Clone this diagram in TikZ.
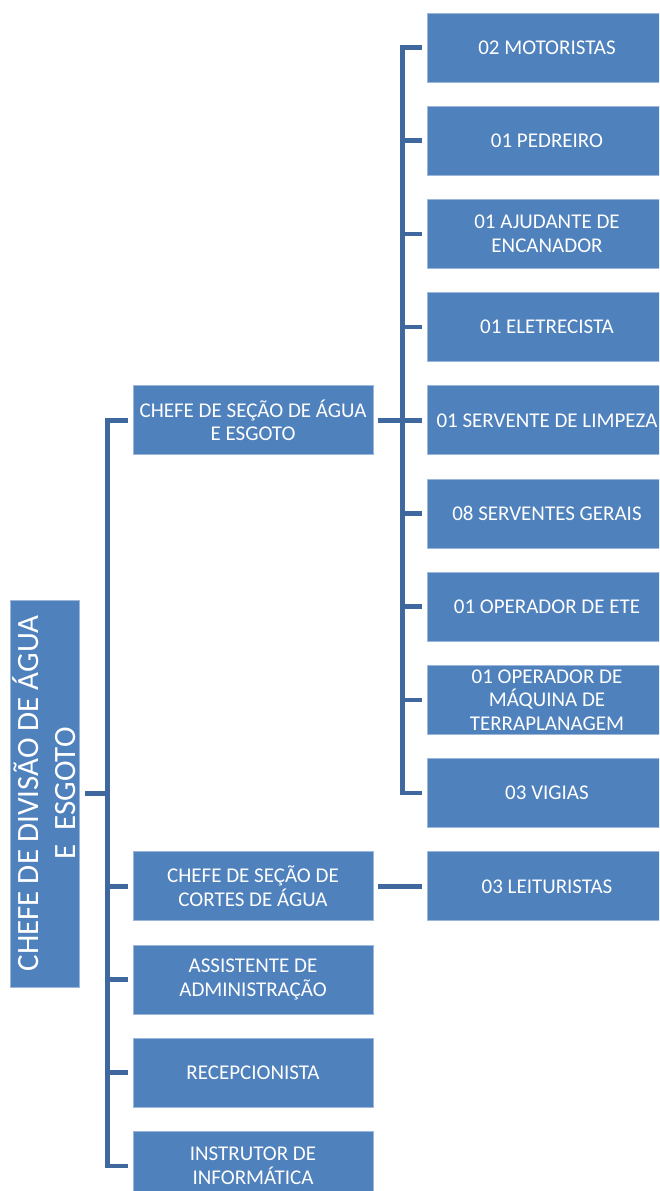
\documentclass[tikz,border=0pt]{standalone}
\usepackage{fontspec}
\setmainfont{Carlito}
\definecolor{boxblue}{HTML}{4F81BD}
\definecolor{lineblue}{HTML}{3F689E}
\definecolor{edgeblue}{HTML}{9DB7DA}
\begin{document}
\begin{tikzpicture}[x=1pt,y=-1pt,
  box/.style={rectangle, fill=boxblue, draw=edgeblue, line width=0.7pt, text=white,
    font=\fontsize{21}{23.5}\selectfont, align=center,
    minimum width=240pt, minimum height=69pt, inner sep=0pt},
  conn/.style={draw=lineblue, line width=4.5pt, line join=miter}]
\useasboundingbox (0,0) rectangle (659,1191);
\clip (0,0) rectangle (659,1191);
\fill[white] (0,0) rectangle (659,1191);

% top box
\node[box, minimum width=69pt, minimum height=387pt] (div) at (44.5,793.5) {};
\node[rotate=90, text=white, align=center, font=\fontsize{31}{37}\selectfont, inner sep=0pt]
  (divtext) at (div.center) {CHEFE DE DIVISÃO DE ÁGUA\\E\ \ ESGOTO};

% level 1
\node[box] (c1) at (253,420.3) {CHEFE DE SEÇÃO DE ÁGUA\\E ESGOTO};
\node[box] (c2) at (253,886.3) {CHEFE DE SEÇÃO DE\\CORTES DE ÁGUA};
\node[box] (c3) at (253,979.5) {ASSISTENTE DE\\ADMINISTRAÇÃO};
\node[box] (c4) at (253,1072.7) {RECEPCIONISTA};
\node[box] (c5) at (253,1165.9) {INSTRUTOR DE\\INFORMÁTICA};

% level 2
\node[box] (r1) at (547,47.5) {02 MOTORISTAS};
\node[box] (r2) at (547,140.7) {01 PEDREIRO};
\node[box] (r3) at (547,233.9) {01 AJUDANTE DE\\ENCANADOR};
\node[box] (r4) at (547,327.1) {01 ELETRECISTA};
\node[box] (r5) at (547,420.3) {01 SERVENTE DE LIMPEZA};
\node[box] (r6) at (547,513.5) {08 SERVENTES GERAIS};
\node[box] (r7) at (547,606.7) {01 OPERADOR DE ETE};
\node[box] (r8) at (547,699.9) {01 OPERADOR DE\\MÁQUINA DE\\TERRAPLANAGEM};
\node[box] (r9) at (547,793.1) {03 VIGIAS};
\node[box] (r10) at (547,886.3) {03 LEITURISTAS};

% connectors
\foreach \c in {c1,c2,c3,c4,c5}
  \draw[conn] ([xshift=6pt]div.east) -- ++(22,0) |- ([xshift=-5pt]\c.west);
\foreach \r in {r1,r2,r3,r4,r5,r6,r7,r8,r9}
  \draw[conn] ([xshift=5pt]c1.east) -- ++(24,0) |- ([xshift=-5pt]\r.west);
\draw[conn] ([xshift=5pt]c2.east) -- ([xshift=-5pt]r10.west);
\end{tikzpicture}
\end{document}
